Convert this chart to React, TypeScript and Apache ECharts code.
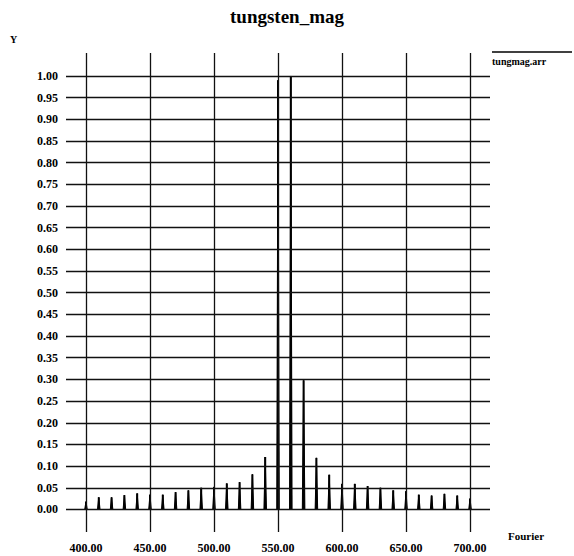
import React, { useEffect, useRef } from "react";
import * as echarts from "echarts";

// Peak positions (Fourier index) and their normalised magnitudes
const peakX: number[] = [
  400, 410, 420, 430, 440, 450, 460, 470, 480, 490, 500, 510, 520, 530, 540, 550,
  560, 570, 580, 590, 600, 610, 620, 630, 640, 650, 660, 670, 680, 690, 700,
];
const peakY: number[] = [
  0.018, 0.028, 0.028, 0.033, 0.037, 0.034, 0.034, 0.04, 0.044, 0.05, 0.052, 0.06,
  0.063, 0.081, 0.121, 0.99, 1.0, 0.298, 0.119, 0.08, 0.059, 0.059, 0.054, 0.05,
  0.044, 0.042, 0.034, 0.032, 0.036, 0.032, 0.025,
];

// Tick labels on both axes
const xTicks: number[] = [400, 450, 500, 550, 600, 650, 700];
const yTicks: number[] = [
  0, 0.05, 0.1, 0.15, 0.2, 0.25, 0.3, 0.35, 0.4, 0.45, 0.5, 0.55, 0.6, 0.65, 0.7,
  0.75, 0.8, 0.85, 0.9, 0.95, 1.0,
];

const seriesName = "tungmag.arr";
const FONT = "'Liberation Serif', 'DejaVu Serif', serif";

export default function App() {
  const ref = useRef<HTMLDivElement>(null);

  useEffect(() => {
    if (!ref.current) return;
    const chart = echarts.init(ref.current, undefined, { renderer: "svg" });

    const data = peakX.map((x, i) => [x, peakY[i]]);
    const gridLine = { color: "#111", width: 1.3, type: "solid" as const };

    chart.setOption({
      animation: false,
      backgroundColor: "#fff",
      title: {
        text: "tungsten_mag",
        left: "center",
        top: 2,
        textStyle: { fontFamily: FONT, fontWeight: "bold", fontSize: 19, color: "#000" },
      },
      grid: { left: 66, right: 84, top: 53, bottom: 24 },
      xAxis: {
        type: "value",
        min: 384.4,
        max: 715.6,
        axisLine: { show: false },
        axisTick: { show: false },
        splitLine: { show: false },
        axisLabel: {
          customValues: xTicks,
          formatter: (v: number) => v.toFixed(2),
          fontFamily: FONT,
          fontWeight: "bold",
          fontSize: 12,
          color: "#000",
          margin: 10,
        },
      },
      yAxis: {
        type: "value",
        min: -0.052,
        max: 1.053,
        axisLine: { show: false },
        axisTick: { show: false },
        splitLine: { show: false },
        axisLabel: {
          customValues: yTicks,
          formatter: (v: number) => v.toFixed(2),
          fontFamily: FONT,
          fontWeight: "bold",
          fontSize: 12,
          color: "#000",
          margin: 8,
        },
      },
      graphic: [
        {
          type: "text",
          left: 10,
          top: 34,
          style: { text: "Y", font: `bold 10px ${FONT}`, fill: "#000" },
        },
        {
          type: "text",
          left: 508,
          top: 530,
          style: { text: "Fourier", font: `bold 11px ${FONT}`, fill: "#000" },
        },
        {
          type: "line",
          shape: { x1: 492, y1: 52, x2: 572, y2: 52 },
          style: { stroke: "#000", lineWidth: 1.5 },
        },
        {
          type: "text",
          left: 492,
          top: 56,
          style: { text: seriesName, font: `bold 10px ${FONT}`, fill: "#000" },
        },
      ],
      series: [
        {
          name: seriesName,
          type: "custom",
          clip: true,
          data,
          encode: { x: 0, y: 1 },
          renderItem: (params: any, api: any) => {
            const x = api.value(0);
            const h = api.value(1);
            const left = api.coord([x - 1, 0]);
            const top = api.coord([x, h]);
            const right = api.coord([x + 1, 0]);
            const base = api.coord([x, 0]);
            return {
              type: "group",
              children: [
                {
                  type: "polygon",
                  shape: { points: [left, top, right] },
                  style: { fill: "#000", stroke: "#000", lineWidth: 1, lineJoin: "round" },
                },
                {
                  type: "line",
                  shape: { x1: base[0], y1: base[1], x2: top[0], y2: top[1] },
                  style: { stroke: "#000", lineWidth: 2 },
                },
              ],
            };
          },
          markLine: {
            silent: true,
            symbol: "none",
            label: { show: false },
            lineStyle: gridLine,
            emphasis: { disabled: true },
            data: [
              ...xTicks.map((v) => ({ xAxis: v })),
              ...yTicks.map((v) => ({ yAxis: v })),
            ],
          },
        },
      ],
    });

    return () => chart.dispose();
  }, []);

  return (
    <div
      ref={ref}
      style={{ position: "absolute", left: 0, top: 0, width: 574, height: 556 }}
    />
  );
}
